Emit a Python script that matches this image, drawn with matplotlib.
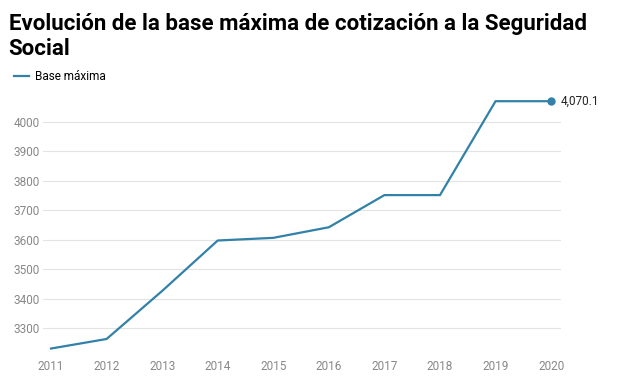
import matplotlib.pyplot as plt

years = [2011, 2012, 2013, 2014, 2015, 2016, 2017, 2018, 2019, 2020]
base_maxima = [3230.1, 3262.5, 3425.7, 3597.0, 3606.0, 3642.0, 3751.2, 3751.2, 4070.1, 4070.1]
yticks = [3300, 3400, 3500, 3600, 3700, 3800, 3900, 4000]

plt.rcParams['font.family'] = ['Roboto', 'DejaVu Sans']
color = '#3181a8'

fig = plt.figure(figsize=(6.19, 3.85), dpi=100)
ax = fig.add_axes([0.0695, 0.087, 0.837, 0.673])

ax.plot(years, base_maxima, color=color, lw=1.6, label='Base máxima')
ax.plot(years[-1], base_maxima[-1], 'o', color=color, ms=5)
ax.annotate(f'{base_maxima[-1]:,.1f}', (years[-1], base_maxima[-1]),
            xytext=(7, 0), textcoords='offset points', va='center',
            fontsize=8.5, color='#222222')

ax.set_xlim(2010.856, 2020.18)
ax.set_ylim(3220, 4100)
ax.set_xticks(years)
ax.set_yticks(yticks)
ax.tick_params(length=0, labelsize=8.5, labelcolor='#888888')
ax.tick_params(axis='y', pad=2)
ax.tick_params(axis='x', pad=6)
ax.grid(axis='y', color='#e3e3e3', lw=0.8)
ax.set_axisbelow(True)
for s in ax.spines.values():
    s.set_visible(False)

fig.text(0.014, 0.965, 'Evolución de la base máxima de cotización a la Seguridad\nSocial',
         fontsize=16, fontweight='bold', va='top', ha='left', linespacing=1.15)
fig.legend(loc='upper left', bbox_to_anchor=(0.005, 0.845), frameon=False,
           fontsize=8.5, handlelength=1.3, handletextpad=0.5)

fig.savefig('out.png', dpi=100)
